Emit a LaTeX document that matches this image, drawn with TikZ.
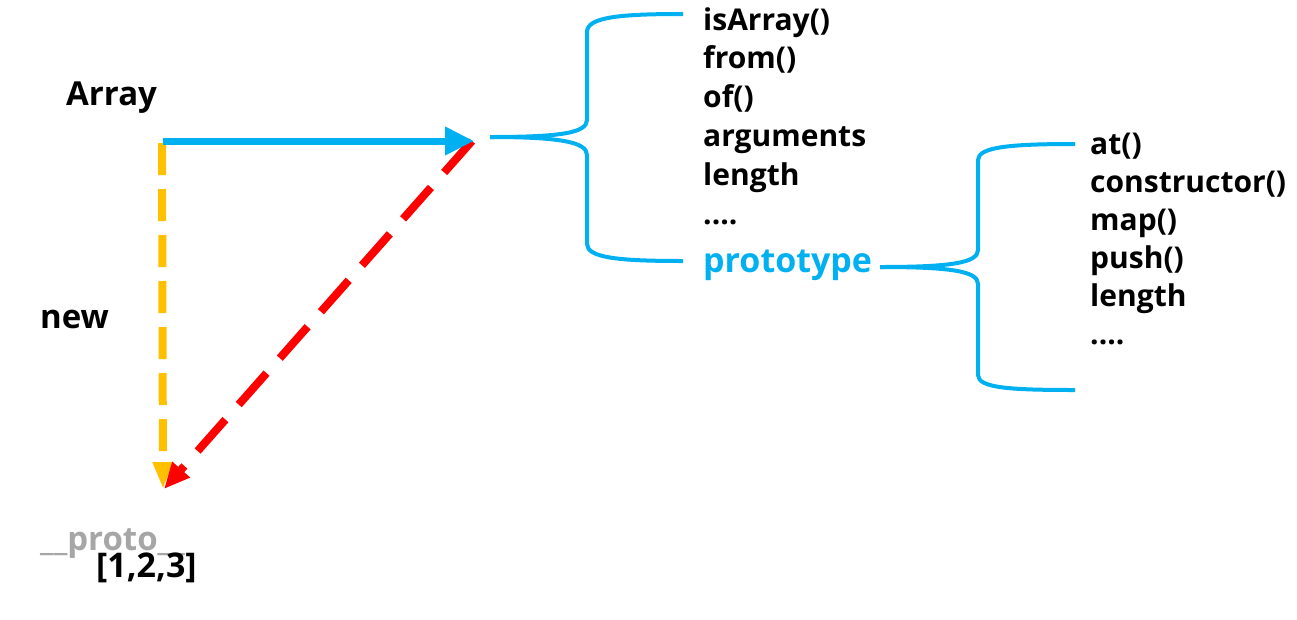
\documentclass[tikz,border=0pt]{standalone}
\usepackage{fontspec}
\setmainfont{Open Sans}
\usetikzlibrary{arrows.meta}
\definecolor{cblue}{HTML}{00B0F0}
\definecolor{cyel}{HTML}{FFC000}
\definecolor{cred}{HTML}{FF0000}
\definecolor{cgray}{HTML}{A6A6A6}
\tikzset{
  lbl/.style={anchor=base west, inner sep=0pt, font=\fontsize{30}{33}\selectfont\bfseries},
  big/.style={lbl, font=\fontsize{33}{36}\selectfont\bfseries},
  brace/.style={draw=cblue, line width=4pt},
}
\begin{document}
\begin{tikzpicture}[x=1pt,y=-1pt]
\useasboundingbox (0,0) rectangle (1297,619);
% labels
\node[big] (array) at (66,105) {Array};
\node[big] (new) at (40,328) {new};
\node[big, text=cgray] (proto) at (40,550) {\_\_proto\_\_};
\node[big, font=\fontsize{34}{36}\selectfont\bfseries] (inst) at (96,577) {[1,2,3]};
% first list
\node[lbl] (l1) at (703,30) {isArray()};
\node[lbl] (l2) at (703,68.9) {from()};
\node[lbl] (l3) at (703,107.8) {of()};
\node[lbl] (l4) at (703,146.7) {arguments};
\node[lbl] (l5) at (703,185.6) {length};
\node[lbl] (l6) at (703,224.5) {....};
\node[big, font=\fontsize{34}{36}\selectfont\bfseries, text=cblue] (proto2) at (703,272) {prototype};
% second list
\node[lbl] (m1) at (1090,154) {at()};
\node[lbl] (m2) at (1090,192) {constructor()};
\node[lbl] (m3) at (1090,230) {map()};
\node[lbl] (m4) at (1090,268) {push()};
\node[lbl] (m5) at (1090,306) {length};
\node[lbl] (m6) at (1090,344) {....};
% coordinates
\coordinate (aS) at (163,141);
\coordinate (aE) at (474,141);
\coordinate (yS) at (162,143);
\coordinate (yE) at (163,489);
\coordinate (rS) at (472,141);
\coordinate (rE) at (164,489);
\coordinate (b1) at (490,137);
\coordinate (b2) at (880,267);
% arrows
\draw[cyel, line width=8pt, dash pattern=on 32pt off 14pt, -{Triangle[length=27pt,width=19pt]}] (yS) -- (yE);
\draw[cred, line width=8pt, dash pattern=on 42pt off 20pt, -{Triangle[length=26pt,width=22pt]}] (rS) -- (rE);
\draw[cblue, line width=7pt, -{Triangle[length=29pt,width=27pt]}] (aS) -- (aE);
% braces
\draw[brace] (b1) .. controls (560,137) and (587,133) .. (587,120) -- (587,32) .. controls (587,17) and (620,14) .. (683,14);
\draw[brace] (b1) .. controls (560,137) and (587,142) .. (587,155) -- (587,244) .. controls (587,258) and (620,261) .. (683,261);
\draw[brace] (b2) .. controls (950,267) and (978,263) .. (978,250) -- (978,160) .. controls (978,147) and (1010,144) .. (1075,144);
\draw[brace] (b2) .. controls (950,267) and (978,271) .. (978,284) -- (978,375) .. controls (978,388) and (1010,390) .. (1075,390);
\end{tikzpicture}
\end{document}
